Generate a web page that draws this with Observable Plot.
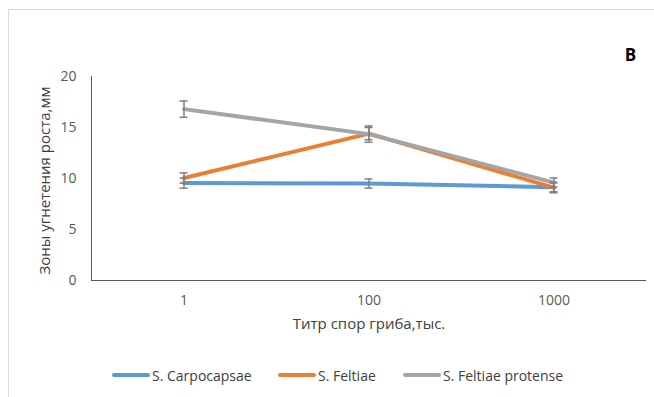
<!DOCTYPE html>
<html>
<head>
<meta charset="utf-8">
<script src="https://cdn.jsdelivr.net/npm/d3@7"></script>
<script src="https://cdn.jsdelivr.net/npm/@observablehq/plot@0.6"></script>
<style>
  html, body { margin: 0; padding: 0; background: #fff; }
  body { width: 654px; height: 397px; overflow: hidden; position: relative; font-family: "Open Sans", sans-serif; }
  #border { position: absolute; left: 8px; top: 9px; width: 700px; height: 500px; border-left: 1px solid #d9d9d9; border-top: 1px solid #d9d9d9; }
  #chart { position: absolute; left: 0; top: 0; }
  #legend { position: absolute; left: 0; top: 364px; width: 654px; height: 22px; font-size: 14px; color: #404040; }
  .item { position: absolute; top: 0; display: flex; align-items: center; height: 22px; }
  .sw { width: 38px; height: 4px; border-radius: 2px; margin-right: 2px; }
</style>
</head>
<body>
<div id="border"></div>
<div id="chart"></div>
<div id="legend"></div>
<script>
const categories = ["1", "100", "1000"];
const seriesNames = ["S. Carpocapsae", "S. Feltiae", "S. Feltiae protense"];
const carpocapsae = [9.55, 9.5, 9.15];
const feltiae = [10.05, 14.4, 9.1];
const feltiaeProtense = [16.8, 14.35, 9.6];
const errCarpocapsae = [0.5, 0.45, 0.45];
const errFeltiae = [0.5, 0.6, 0.5];
const errFeltiaeProtense = [0.8, 0.8, 0.45];
const yTicks = [0, 5, 10, 15, 20];
const colors = ["#5B9BD5", "#ED7D31", "#A5A5A5"];

const values = [carpocapsae, feltiae, feltiaeProtense];
const errs = [errCarpocapsae, errFeltiae, errFeltiaeProtense];
const data = [];
values.forEach((vals, s) => {
  vals.forEach((v, i) => {
    data.push({series: seriesNames[s], x: categories[i], y: v, lo: v - errs[s][i], hi: v + errs[s][i]});
  });
});

const W = 654, ML = 91, MR = 8;
const capInset = ((W - ML - MR) / categories.length - 8) / 2;

const plot = Plot.plot({
  width: W,
  height: 350,
  marginLeft: ML,
  marginRight: MR,
  marginTop: 76,
  marginBottom: 70,
  style: {fontFamily: "Open Sans, sans-serif", fontSize: "14px", color: "#595959", background: "transparent"},
  x: {type: "band", domain: categories, padding: 0, label: null},
  y: {domain: [0, 20], label: null},
  color: {domain: seriesNames, range: colors},
  marks: [
    Plot.axisY({ticks: yTicks, tickSize: 0, tickPadding: 15, label: null, fill: "#595959", fontSize: 14}),
    Plot.axisX({tickSize: 0, tickPadding: 15, label: null, fill: "#595959", fontSize: 14}),
    Plot.frame({anchor: "left", stroke: "#595959", strokeOpacity: 1}),
    Plot.ruleY([0], {stroke: "#595959", strokeWidth: 1}),
    Plot.line(data, {x: "x", y: "y", z: "series", stroke: "series", strokeWidth: 4}),
    Plot.ruleX(data, {x: "x", y1: "lo", y2: "hi", stroke: "#7f7f7f", strokeWidth: 1.5}),
    Plot.tickY(data, {x: "x", y: "lo", stroke: "#7f7f7f", strokeWidth: 1.5, insetLeft: capInset, insetRight: capInset}),
    Plot.tickY(data, {x: "x", y: "hi", stroke: "#7f7f7f", strokeWidth: 1.5, insetLeft: capInset, insetRight: capInset}),
    Plot.text(["Зоны угнетения роста,мм"], {frameAnchor: "left", rotate: -90, dx: -46, dy: 2, fill: "#404040", fontSize: 15, textAnchor: "middle"}),
    Plot.text(["Титр спор гриба,тыс."], {frameAnchor: "bottom", dy: 48, fill: "#404040", fontSize: 15, textAnchor: "middle"}),
    Plot.text(["B"], {frameAnchor: "top-right", dx: -16, dy: -28, fill: "#000", fontSize: 17, fontWeight: "bold", textAnchor: "middle"})
  ]
});
document.getElementById("chart").appendChild(plot);

const legend = document.getElementById("legend");
const lefts = [112, 278, 403];
seriesNames.forEach((name, i) => {
  const item = document.createElement("div");
  item.className = "item";
  item.style.left = lefts[i] + "px";
  const sw = document.createElement("div");
  sw.className = "sw";
  sw.style.background = colors[i];
  item.appendChild(sw);
  const t = document.createElement("span");
  t.textContent = name;
  item.appendChild(t);
  legend.appendChild(item);
});
</script>
</body>
</html>
